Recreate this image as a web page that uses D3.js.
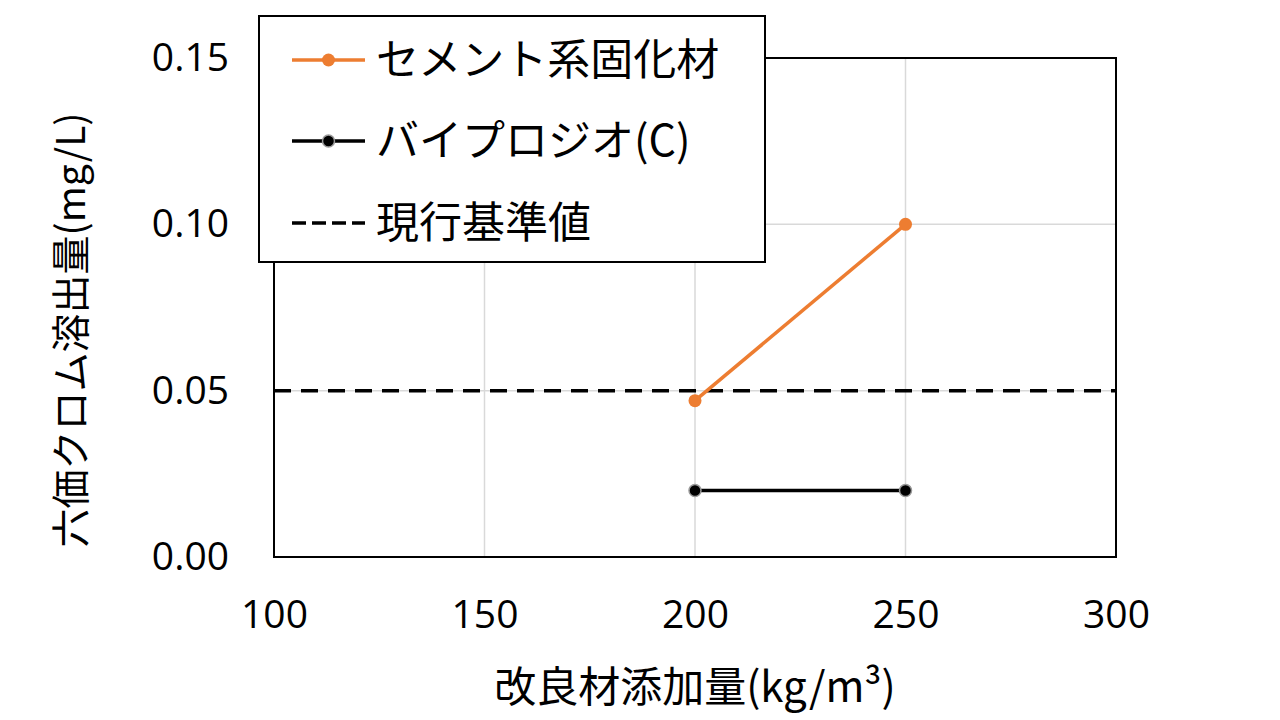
<!DOCTYPE html>
<html><head><meta charset="utf-8">
<script src="https://cdn.jsdelivr.net/npm/d3@7"></script>
<style>body{margin:0;background:#fff}</style>
</head><body>
<svg id="c" width="1280" height="720"></svg>
<script>
const xTicks = [100, 150, 200, 250, 300];
const yTicks = [0, 0.05, 0.10, 0.15];
const cementX = [200, 250];
const cementY = [0.047, 0.10];
const bioX = [200, 250];
const bioY = [0.02, 0.02];
const standard = 0.05;
const seriesNames = ["セメント系固化材", "バイプロジオ(C)", "現行基準値"];
const xTitle = "改良材添加量(kg/m³)";
const yTitle = "六価クロム溶出量(mg/L)";

const svg = d3.select("#c");
const L = 274, R = 1116, T = 58, B = 557;
const x = d3.scaleLinear().domain([100, 300]).range([L, R]);
const y = d3.scaleLinear().domain([0, 0.15]).range([B, T]);
const font = "'Open Sans','Noto Sans CJK JP',sans-serif";
const cjk = "'Noto Sans CJK JP',sans-serif";

// grid
svg.append("g").selectAll("line").data(xTicks.slice(1, -1)).join("line")
  .attr("x1", d => x(d)).attr("x2", d => x(d)).attr("y1", T).attr("y2", B)
  .attr("stroke", "#d9d9d9").attr("stroke-width", 1.5);
svg.append("g").selectAll("line").data(yTicks.slice(1, -1)).join("line")
  .attr("x1", L).attr("x2", R).attr("y1", d => y(d)).attr("y2", d => y(d))
  .attr("stroke", "#d9d9d9").attr("stroke-width", 1.5);

// frame
svg.append("rect").attr("x", L).attr("y", T).attr("width", R - L).attr("height", B - T)
  .attr("fill", "none").attr("stroke", "#000").attr("stroke-width", 2);

// axes labels via d3 axes
const xa = svg.append("g").attr("transform", `translate(0,${B})`)
  .call(d3.axisBottom(x).tickValues(xTicks).tickSize(0).tickPadding(43).tickFormat(d3.format("d")));
xa.select(".domain").remove();
xa.selectAll("text").attr("font-family", font).attr("font-size", 39).attr("fill", "#000");

const ya = svg.append("g").attr("transform", `translate(${L},0)`)
  .call(d3.axisLeft(y).tickValues(yTicks).tickSize(0).tickPadding(45).tickFormat(d3.format(".2f")));
ya.select(".domain").remove();
ya.selectAll("text").attr("font-family", font).attr("font-size", 39).attr("fill", "#000");

// standard line
svg.append("line").attr("x1", L).attr("x2", R).attr("y1", y(standard)).attr("y2", y(standard))
  .attr("stroke", "#000").attr("stroke-width", 3.5).attr("stroke-dasharray", "17,10");

const line = d3.line().x(d => x(d[0])).y(d => y(d[1]));
const cement = cementX.map((v, i) => [v, cementY[i]]);
const bio = bioX.map((v, i) => [v, bioY[i]]);

svg.append("path").datum(bio).attr("d", line).attr("fill", "none").attr("stroke", "#000").attr("stroke-width", 3.5);
svg.append("g").selectAll("circle").data(bio).join("circle")
  .attr("cx", d => x(d[0])).attr("cy", d => y(d[1])).attr("r", 6)
  .attr("fill", "#000").attr("stroke", "#999").attr("stroke-width", 1.5);

svg.append("path").datum(cement).attr("d", line).attr("fill", "none").attr("stroke", "#ED7D31").attr("stroke-width", 3.5);
svg.append("g").selectAll("circle").data(cement).join("circle")
  .attr("cx", d => x(d[0])).attr("cy", d => y(d[1])).attr("r", 6.5)
  .attr("fill", "#ED7D31");

// axis titles
svg.append("text").attr("x", 695).attr("y", 702).attr("text-anchor", "middle")
  .attr("font-family", cjk).attr("font-size", 42).attr("fill", "#000").text(xTitle);
svg.append("text").attr("transform", "translate(85,330) rotate(-90)").attr("text-anchor", "middle")
  .attr("font-family", cjk).attr("font-size", 39).attr("fill", "#000").text(yTitle);

// legend
const lg = svg.append("g");
lg.append("rect").attr("x", 259).attr("y", 16).attr("width", 506).attr("height", 246)
  .attr("fill", "#fff").attr("stroke", "#000").attr("stroke-width", 2);
const rows = [60, 141, 223];
const lx1 = 292, lx2 = 365;
lg.append("line").attr("x1", lx1).attr("x2", lx2).attr("y1", rows[0]).attr("y2", rows[0]).attr("stroke", "#ED7D31").attr("stroke-width", 3.5);
lg.append("circle").attr("cx", (lx1 + lx2) / 2).attr("cy", rows[0]).attr("r", 6.5).attr("fill", "#ED7D31");
lg.append("line").attr("x1", lx1).attr("x2", lx2).attr("y1", rows[1]).attr("y2", rows[1]).attr("stroke", "#000").attr("stroke-width", 3.5);
lg.append("circle").attr("cx", (lx1 + lx2) / 2).attr("cy", rows[1]).attr("r", 6).attr("fill", "#000").attr("stroke", "#999").attr("stroke-width", 1.5);
lg.append("line").attr("x1", lx1).attr("x2", lx2).attr("y1", rows[2]).attr("y2", rows[2]).attr("stroke", "#000").attr("stroke-width", 3.5).attr("stroke-dasharray", "14,6");
lg.selectAll("text.l").data(seriesNames).join("text").attr("class", "l")
  .attr("x", 376).attr("y", (d, i) => rows[i]).attr("dy", "0.36em")
  .attr("font-family", cjk).attr("font-size", 43).attr("fill", "#000").text(d => d);
</script>
</body></html>
